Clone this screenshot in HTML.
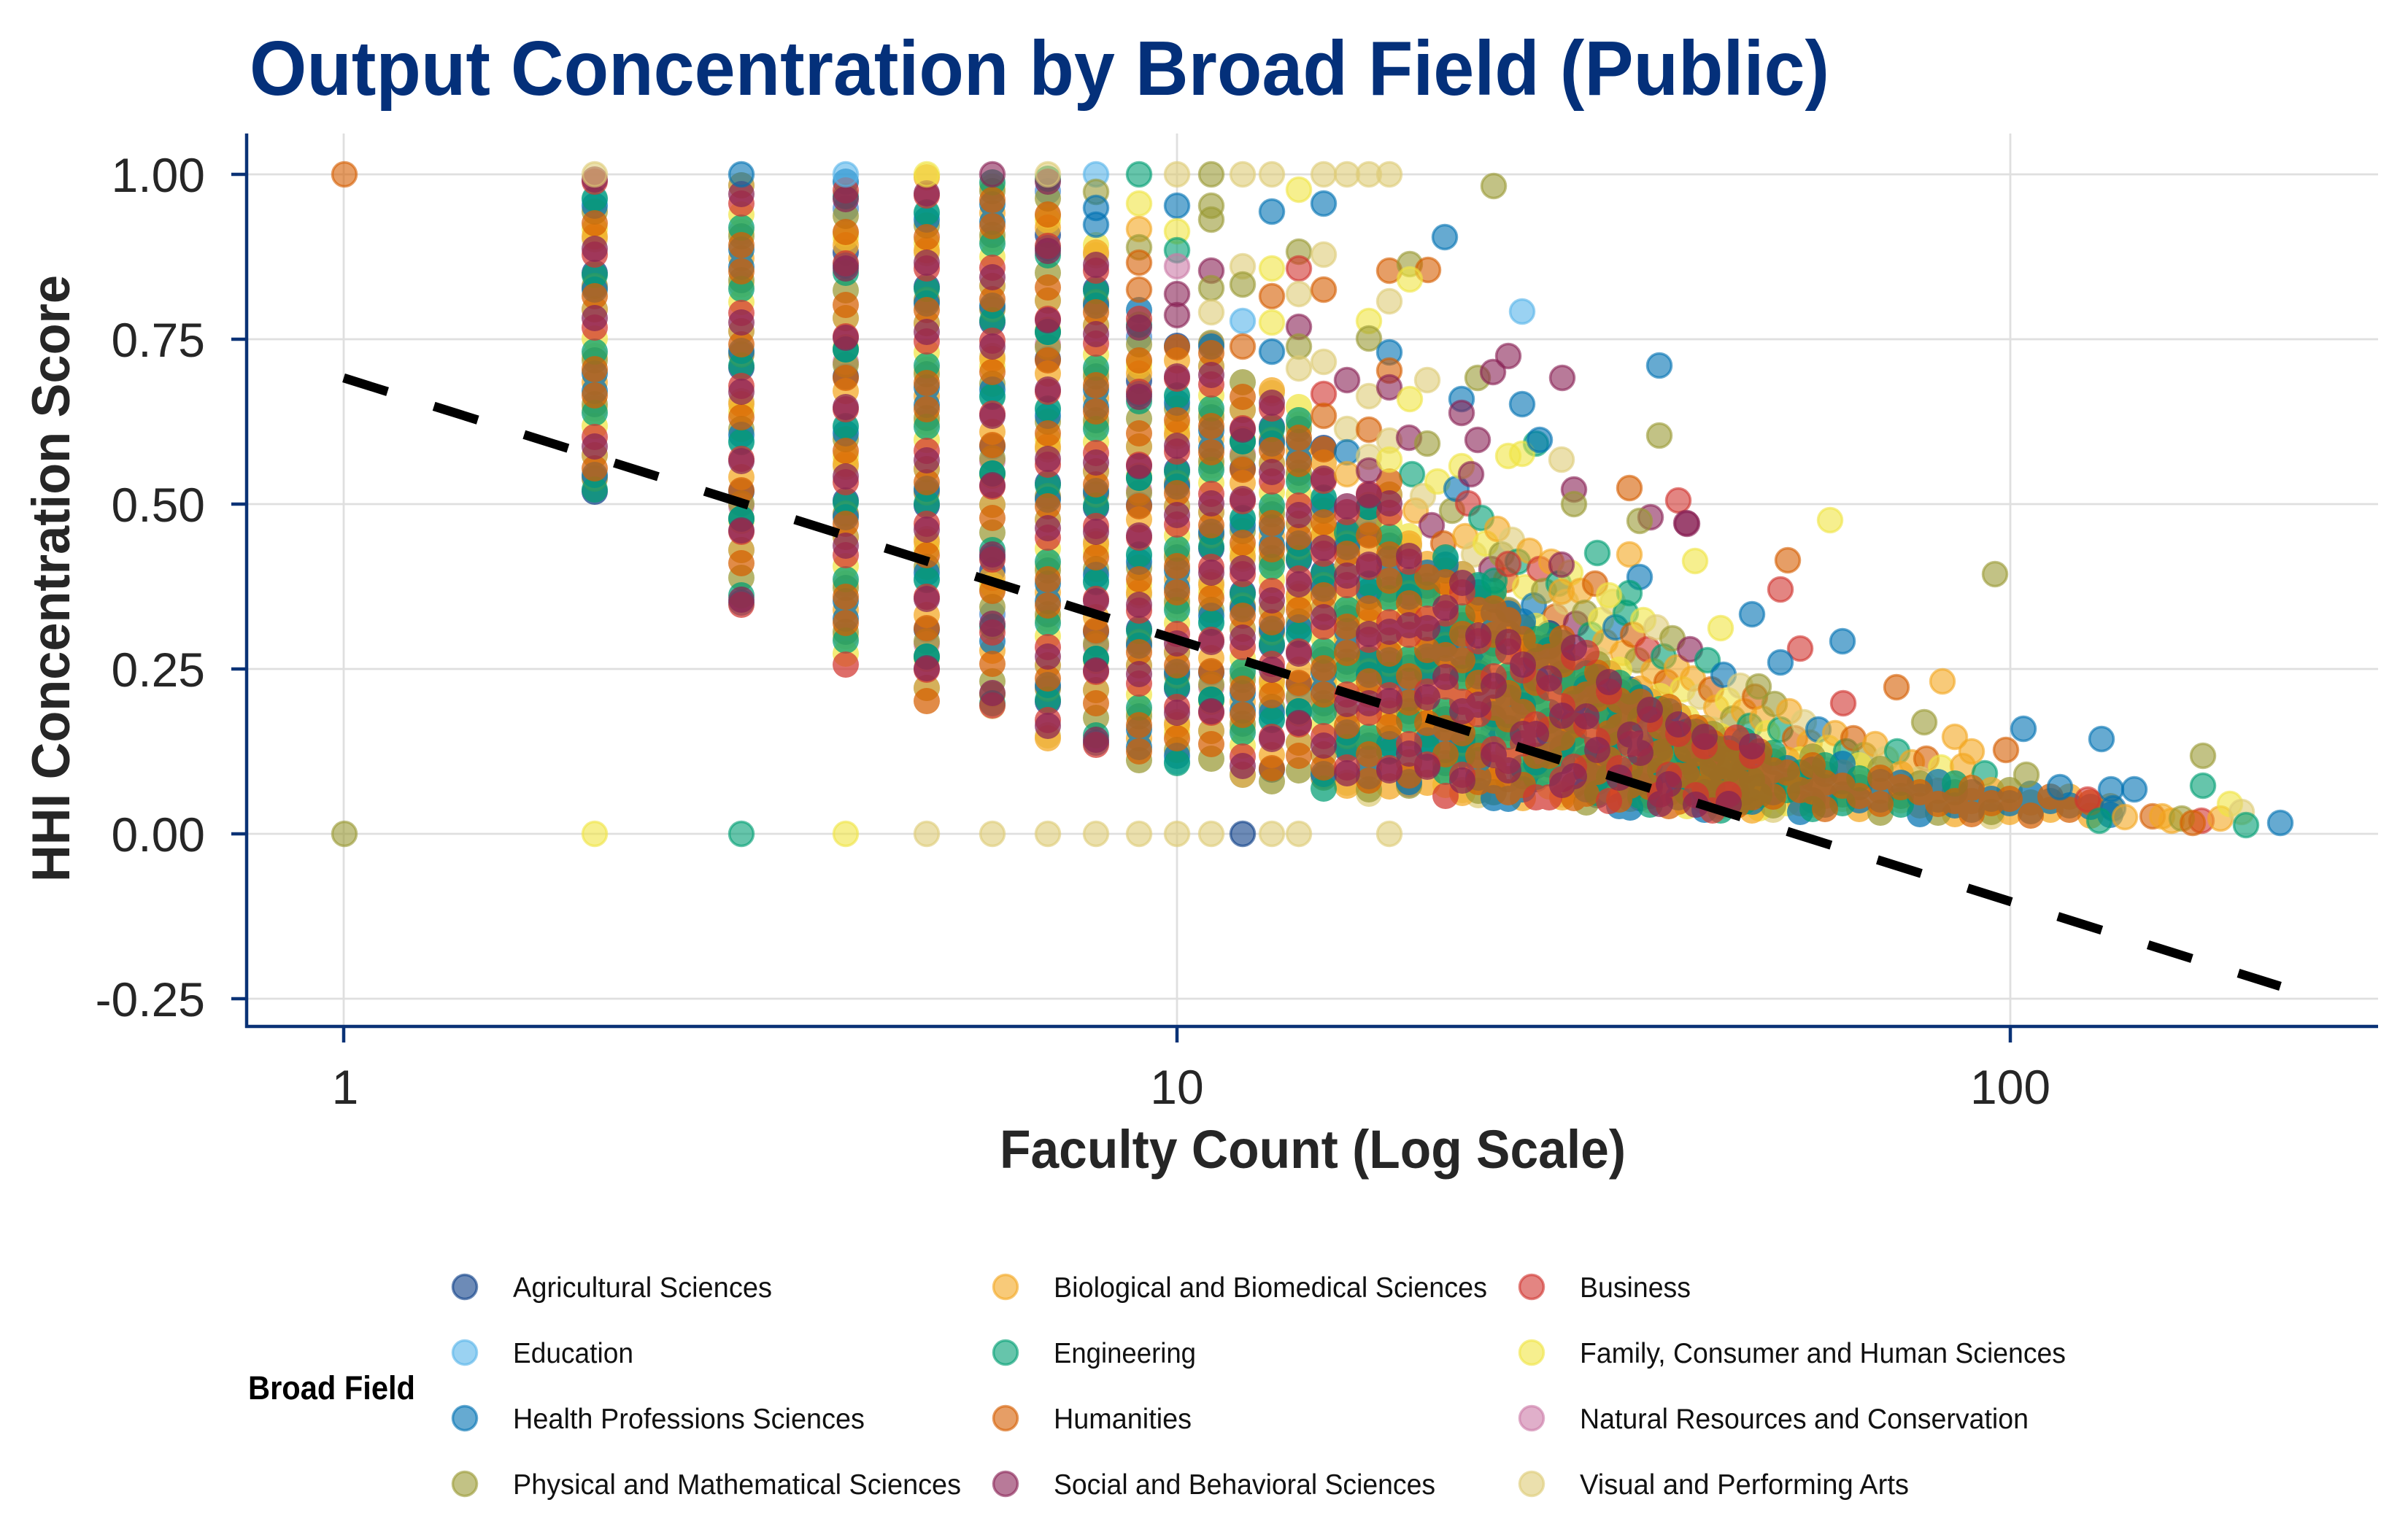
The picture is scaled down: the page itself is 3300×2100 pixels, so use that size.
<!DOCTYPE html>
<html>
<head>
<meta charset="utf-8">
<style>
html,body{margin:0;padding:0;background:#fff;width:3300px;height:2100px;overflow:hidden}
svg{display:block}
text{font-family:"Liberation Sans",sans-serif}
circle{stroke-width:3.5;fill-opacity:.6;stroke-opacity:.6}
.a{fill:#0b3d87;stroke:#0b3d87}
.b{fill:#f4a620;stroke:#f4a620}
.u{fill:#d1342f;stroke:#d1342f}
.e{fill:#56b4e9;stroke:#56b4e9}
.g{fill:#009e73;stroke:#009e73}
.f{fill:#f0e442;stroke:#f0e442}
.h{fill:#0072b2;stroke:#0072b2}
.m{fill:#d55e00;stroke:#d55e00}
.n{fill:#cc79a7;stroke:#cc79a7}
.p{fill:#999933;stroke:#999933}
.s{fill:#882255;stroke:#882255}
.v{fill:#ddcc77;stroke:#ddcc77}
</style>
</head>
<body>
<svg width="3300" height="2100" viewBox="0 0 3300 2100" xmlns="http://www.w3.org/2000/svg">
<defs>
<path id="D" d="M815 524V691M815 524V239M1016 354V842M1016 354V239M1159 836V917M1159 836V239M1270 543V962M1270 543V239M1360 292V992M1360 292V239M1436 812V1014M1436 812V239M1502 546V1030M1502 546V329M1561 1012V1043M1561 1012V420M1613 794V1053M1613 794V465M1660 602V1061M1660 602V465M1703 962V1068M1703 962V510M1743 735V1074M1743 735V528M1780 618V1078M1780 618V555M1814 934V1083M1814 934V601M1846 877V1087M1846 877V691M1876 1052V1090M1876 1052V673M1904 778V1093M1904 778V655M1931 945V1090M1931 945V727M1956 773V1090M1956 773V763M1981 1016V1092M1981 1016V763M2004 887V1093M2004 887V781M2026 1054V1095M2026 1054V800M2047 852V1096M2047 852V809M2067 968V1098M2067 968V827M2087 1094V1099M2087 1094V845M2105 918V1100M2105 918V854M2123 1018V1101M2123 1018V863M2141 893V1102M2141 893V872M2157 976V1103M2157 976V881M2174 1070V1104M2174 1070V890M2189 940V1105M2189 940V899M2205 1023V1106M2205 1023V908M2219 978V1107M2219 978V917M2234 1095V1108M2234 1095V926M2248 944V1108M2248 944V935M2261 1061V1109M2261 1061V944M2275 1014V1109M2275 1014V953M2287 987V1110M2287 987V962M2300 1081V1110M2300 1081V971M2312 1045V1111M2312 1045V980M2324 1015V1111M2324 1015V985M2336 1098V1112M2336 1098V989M2347 1036V1112M2347 1036V994M2358 1069V1112M2358 1069V998M2369 1014V1113M2369 1014V1003M2380 1086V1113M2380 1086V1007M2390 1057V1113M2390 1057V1012M2401 1111V1114M2401 1111V1016M2411 1048V1114M2411 1048V1021M2430 1074V1115M2430 1074V1025M2449 1041V1115M2449 1041V1030M2467 1101V1116M2467 1101V1034M2484 1067V1116M2484 1067V1034M2501 1091V1117M2501 1091V1039M2525 1059V1117M2525 1059V1044M2548 1109V1118M2548 1109V1048M2577 1084V1118M2577 1084V1053M2605 1061V1119M2605 1061V1057M2631 1104V1119M2631 1104V1062M2656 1084V1120M2656 1084V1066M2679 1116V1120M2679 1116V1071M2702 1098V1121M2702 1098V1071M2729 1083V1121M2729 1083V1075M2754 1113V1121M2754 1113V1080M2783 1100V1122M2783 1100V1084M2810 1110V1122M2810 1110V1089M2836 1092V1122M2836 1092V1089M2865 1118V1123M2865 1118V1093M2892 1105V1123M2892 1105V1098"/>
</defs>
<rect width="3300" height="2100" fill="#ffffff"/>
<text x="342" y="130" font-weight="bold" font-size="106" fill="#04307a" textLength="2165" lengthAdjust="spacingAndGlyphs">Output Concentration by Broad Field (Public)</text>

<g stroke="#dfdfdf" stroke-width="2.8">
<line x1="338" y1="239" x2="3259" y2="239"/>
<line x1="338" y1="465" x2="3259" y2="465"/>
<line x1="338" y1="691" x2="3259" y2="691"/>
<line x1="338" y1="917" x2="3259" y2="917"/>
<line x1="338" y1="1143" x2="3259" y2="1143"/>
<line x1="338" y1="1369" x2="3259" y2="1369"/>
<line x1="471" y1="183" x2="471" y2="1407"/>
<line x1="1613" y1="183" x2="1613" y2="1407"/>
<line x1="2755" y1="183" x2="2755" y2="1407"/>
</g>

<!-- medium-density scattered points -->
<g>
<circle r="16.5" cx="1935" cy="650" class="g"/><circle r="16.5" cx="1940" cy="700" class="b"/><circle r="16.5" cx="1950" cy="680" class="v"/><circle r="16.5" cx="1962" cy="720" class="s"/><circle r="16.5" cx="1970" cy="660" class="f"/><circle r="16.5" cx="1978" cy="745" class="m"/><circle r="16.5" cx="1990" cy="700" class="p"/><circle r="16.5" cx="1996" cy="670" class="h"/><circle r="16.5" cx="2008" cy="735" class="b"/><circle r="16.5" cx="2012" cy="690" class="u"/><circle r="16.5" cx="2020" cy="760" class="v"/><circle r="16.5" cx="2030" cy="710" class="g"/><circle r="16.5" cx="2036" cy="745" class="f"/><circle r="16.5" cx="2044" cy="780" class="s"/><circle r="16.5" cx="2052" cy="725" class="b"/><circle r="16.5" cx="2058" cy="760" class="p"/><circle r="16.5" cx="2064" cy="795" class="m"/><circle r="16.5" cx="2072" cy="740" class="v"/><circle r="16.5" cx="2080" cy="770" class="g"/><circle r="16.5" cx="2090" cy="805" class="f"/><circle r="16.5" cx="2096" cy="755" class="b"/><circle r="16.5" cx="2102" cy="830" class="h"/><circle r="16.5" cx="2110" cy="780" class="u"/><circle r="16.5" cx="2116" cy="810" class="p"/><circle r="16.5" cx="2126" cy="770" class="b"/><circle r="16.5" cx="2132" cy="845" class="m"/><circle r="16.5" cx="2136" cy="800" class="g"/><circle r="16.5" cx="2146" cy="825" class="v"/><circle r="16.5" cx="2152" cy="785" class="f"/><circle r="16.5" cx="2160" cy="855" class="s"/><circle r="16.5" cx="2166" cy="810" class="b"/><circle r="16.5" cx="2172" cy="840" class="p"/><circle r="16.5" cx="2180" cy="870" class="g"/><circle r="16.5" cx="2186" cy="800" class="m"/><circle r="16.5" cx="2194" cy="850" class="f"/><circle r="16.5" cx="2200" cy="880" class="b"/><circle r="16.5" cx="2210" cy="825" class="v"/><circle r="16.5" cx="2214" cy="860" class="h"/><circle r="16.5" cx="2224" cy="895" class="b"/><circle r="16.5" cx="2228" cy="840" class="g"/><circle r="16.5" cx="2238" cy="870" class="m"/><circle r="16.5" cx="2244" cy="905" class="p"/><circle r="16.5" cx="2252" cy="850" class="f"/><circle r="16.5" cx="2258" cy="890" class="u"/><circle r="16.5" cx="2266" cy="920" class="b"/><circle r="16.5" cx="2270" cy="860" class="v"/><circle r="16.5" cx="2280" cy="900" class="g"/><circle r="16.5" cx="2284" cy="935" class="m"/><circle r="16.5" cx="2292" cy="875" class="p"/><circle r="16.5" cx="2298" cy="915" class="b"/><circle r="16.5" cx="2306" cy="945" class="f"/><circle r="16.5" cx="2316" cy="890" class="s"/><circle r="16.5" cx="2320" cy="930" class="b"/><circle r="16.5" cx="2330" cy="955" class="v"/><circle r="16.5" cx="2340" cy="905" class="g"/><circle r="16.5" cx="2345" cy="945" class="m"/><circle r="16.5" cx="2352" cy="970" class="b"/><circle r="16.5" cx="2362" cy="925" class="h"/><circle r="16.5" cx="2368" cy="960" class="f"/><circle r="16.5" cx="2375" cy="985" class="p"/><circle r="16.5" cx="2385" cy="940" class="v"/><circle r="16.5" cx="2390" cy="975" class="b"/><circle r="16.5" cx="2398" cy="995" class="g"/><circle r="16.5" cx="2405" cy="955" class="m"/><circle r="16.5" cx="2415" cy="985" class="b"/><circle r="16.5" cx="2422" cy="1005" class="f"/><circle r="16.5" cx="2432" cy="965" class="p"/><circle r="16.5" cx="2440" cy="1000" class="g"/><circle r="16.5" cx="2452" cy="975" class="b"/><circle r="16.5" cx="2460" cy="1012" class="m"/><circle r="16.5" cx="2472" cy="990" class="v"/><circle r="16.5" cx="2480" cy="1018" class="b"/><circle r="16.5" cx="2492" cy="1000" class="h"/><circle r="16.5" cx="2505" cy="1025" class="f"/><circle r="16.5" cx="2515" cy="1005" class="b"/><circle r="16.5" cx="2530" cy="1030" class="g"/><circle r="16.5" cx="2540" cy="1012" class="m"/><circle r="16.5" cx="2555" cy="1035" class="p"/><circle r="16.5" cx="2570" cy="1020" class="b"/><circle r="16.5" cx="2585" cy="1040" class="v"/><circle r="16.5" cx="2600" cy="1030" class="g"/><circle r="16.5" cx="2620" cy="1045" class="b"/><circle r="16.5" cx="2640" cy="1040" class="m"/><circle r="16.5" cx="2660" cy="1052" class="f"/><circle r="16.5" cx="2690" cy="1050" class="b"/><circle r="16.5" cx="2720" cy="1060" class="g"/>
</g>

<!-- dense dotted layers -->
<g fill="none" stroke-width="36" stroke-linecap="round" stroke-opacity="0.72">
<use href="#D" stroke="#0b3d87" stroke-dasharray="0 170" stroke-dashoffset="20"/>
<use href="#D" stroke="#cc79a7" stroke-dasharray="0 210" stroke-dashoffset="80"/>
<use href="#D" stroke="#56b4e9" stroke-dasharray="0 150" stroke-dashoffset="50"/>
<use href="#D" stroke="#ddcc77" stroke-dasharray="0 160" stroke-dashoffset="124"/>
<use href="#D" stroke="#f0e442" stroke-dasharray="0 150" stroke-dashoffset="90"/>
<use href="#D" stroke="#f4a620" stroke-dasharray="0 100" stroke-dashoffset="0"/>
<use href="#D" stroke="#999933" stroke-dasharray="0 102" stroke-dashoffset="72"/>
<use href="#D" stroke="#0072b2" stroke-dasharray="0 115" stroke-dashoffset="103"/>
<use href="#D" stroke="#009e73" stroke-dasharray="0 105" stroke-dashoffset="63"/>
<use href="#D" stroke="#d55e00" stroke-dasharray="0 100" stroke-dashoffset="82"/>
<use href="#D" stroke="#d1342f" stroke-dasharray="0 100" stroke-dashoffset="25"/>
<use href="#D" stroke="#882255" stroke-dasharray="0 95" stroke-dashoffset="7"/>
</g>

<!-- individual points -->
<g>
<circle r="16.5" cx="472" cy="239" class="m"/><circle r="16.5" cx="472" cy="1143" class="p"/>
<circle r="16.5" cx="815" cy="239" class="v"/><circle r="16.5" cx="1016" cy="239" class="h"/><circle r="16.5" cx="1159" cy="239" class="e"/><circle r="16.5" cx="1270" cy="239" class="f"/><circle r="16.5" cx="1360" cy="239" class="s"/><circle r="16.5" cx="1436" cy="239" class="v"/><circle r="16.5" cx="1502" cy="239" class="e"/><circle r="16.5" cx="1561" cy="239" class="g"/><circle r="16.5" cx="1613" cy="239" class="v"/><circle r="16.5" cx="1660" cy="239" class="p"/><circle r="16.5" cx="1703" cy="239" class="v"/><circle r="16.5" cx="1743" cy="239" class="v"/><circle r="16.5" cx="1814" cy="239" class="v"/><circle r="16.5" cx="1846" cy="239" class="v"/><circle r="16.5" cx="1876" cy="239" class="v"/><circle r="16.5" cx="1904" cy="239" class="v"/>
<circle r="16.5" cx="815" cy="1143" class="f"/><circle r="16.5" cx="1016" cy="1143" class="g"/><circle r="16.5" cx="1159" cy="1143" class="f"/><circle r="16.5" cx="1270" cy="1143" class="v"/><circle r="16.5" cx="1360" cy="1143" class="v"/><circle r="16.5" cx="1436" cy="1143" class="v"/><circle r="16.5" cx="1502" cy="1143" class="v"/><circle r="16.5" cx="1561" cy="1143" class="v"/><circle r="16.5" cx="1613" cy="1143" class="v"/><circle r="16.5" cx="1660" cy="1143" class="v"/><circle r="16.5" cx="1703" cy="1143" class="a"/><circle r="16.5" cx="1743" cy="1143" class="v"/><circle r="16.5" cx="1780" cy="1143" class="v"/><circle r="16.5" cx="1904" cy="1143" class="v"/>
<circle r="16.5" cx="1502" cy="263" class="p"/><circle r="16.5" cx="1502" cy="285" class="h"/><circle r="16.5" cx="1502" cy="308" class="h"/>
<circle r="16.5" cx="1561" cy="279" class="f"/><circle r="16.5" cx="1561" cy="314" class="b"/><circle r="16.5" cx="1561" cy="339" class="p"/><circle r="16.5" cx="1561" cy="360" class="m"/><circle r="16.5" cx="1561" cy="397" class="m"/>
<circle r="16.5" cx="1613" cy="282" class="h"/><circle r="16.5" cx="1613" cy="317" class="f"/><circle r="16.5" cx="1613" cy="343" class="g"/><circle r="16.5" cx="1613" cy="365" class="n"/><circle r="16.5" cx="1613" cy="403" class="s"/><circle r="16.5" cx="1613" cy="432" class="s"/>
<circle r="16.5" cx="1660" cy="282" class="p"/><circle r="16.5" cx="1660" cy="301" class="p"/><circle r="16.5" cx="1660" cy="371" class="s"/><circle r="16.5" cx="1660" cy="395" class="p"/><circle r="16.5" cx="1660" cy="428" class="v"/>
<circle r="16.5" cx="1703" cy="365" class="v"/><circle r="16.5" cx="1703" cy="390" class="p"/><circle r="16.5" cx="1703" cy="440" class="e"/><circle r="16.5" cx="1703" cy="475" class="m"/>
<circle r="16.5" cx="1743" cy="290" class="h"/><circle r="16.5" cx="1743" cy="368" class="f"/><circle r="16.5" cx="1743" cy="406" class="m"/><circle r="16.5" cx="1743" cy="442" class="f"/><circle r="16.5" cx="1743" cy="482" class="h"/>
<circle r="16.5" cx="1780" cy="260" class="f"/><circle r="16.5" cx="1780" cy="345" class="p"/><circle r="16.5" cx="1780" cy="368" class="u"/><circle r="16.5" cx="1780" cy="403" class="v"/><circle r="16.5" cx="1780" cy="448" class="s"/><circle r="16.5" cx="1780" cy="475" class="p"/><circle r="16.5" cx="1780" cy="505" class="v"/>
<circle r="16.5" cx="1814" cy="279" class="h"/><circle r="16.5" cx="1814" cy="349" class="v"/><circle r="16.5" cx="1814" cy="397" class="m"/><circle r="16.5" cx="1814" cy="496" class="v"/><circle r="16.5" cx="1814" cy="540" class="u"/><circle r="16.5" cx="1814" cy="570" class="m"/>
<circle r="16.5" cx="1846" cy="521" class="s"/><circle r="16.5" cx="1846" cy="588" class="v"/><circle r="16.5" cx="1846" cy="620" class="h"/><circle r="16.5" cx="1846" cy="650" class="b"/>
<circle r="16.5" cx="1876" cy="440" class="f"/><circle r="16.5" cx="1876" cy="464" class="p"/><circle r="16.5" cx="1876" cy="543" class="v"/><circle r="16.5" cx="1876" cy="589" class="m"/><circle r="16.5" cx="1876" cy="626" class="v"/><circle r="16.5" cx="1876" cy="645" class="s"/>
<circle r="16.5" cx="1904" cy="371" class="m"/><circle r="16.5" cx="1904" cy="413" class="v"/><circle r="16.5" cx="1904" cy="483" class="h"/><circle r="16.5" cx="1904" cy="508" class="m"/><circle r="16.5" cx="1904" cy="531" class="s"/><circle r="16.5" cx="1904" cy="604" class="v"/><circle r="16.5" cx="1904" cy="630" class="f"/>
<circle r="16.5" cx="1932" cy="362" class="p"/><circle r="16.5" cx="1957" cy="370" class="m"/><circle r="16.5" cx="1932" cy="383" class="f"/><circle r="16.5" cx="1956" cy="521" class="v"/><circle r="16.5" cx="1932" cy="547" class="f"/><circle r="16.5" cx="1931" cy="600" class="s"/><circle r="16.5" cx="1980" cy="325" class="h"/><circle r="16.5" cx="2047" cy="255" class="p"/><circle r="16.5" cx="2003" cy="547" class="h"/><circle r="16.5" cx="2003" cy="566" class="s"/><circle r="16.5" cx="2025" cy="518" class="p"/><circle r="16.5" cx="2046" cy="510" class="s"/><circle r="16.5" cx="2067" cy="488" class="s"/><circle r="16.5" cx="2086" cy="427" class="e"/><circle r="16.5" cx="2086" cy="554" class="h"/><circle r="16.5" cx="2141" cy="518" class="s"/><circle r="16.5" cx="2274" cy="501" class="h"/><circle r="16.5" cx="1956" cy="608" class="p"/><circle r="16.5" cx="2025" cy="603" class="s"/><circle r="16.5" cx="2105" cy="608" class="g"/><circle r="16.5" cx="2067" cy="625" class="f"/><circle r="16.5" cx="2086" cy="622" class="f"/><circle r="16.5" cx="2140" cy="630" class="v"/><circle r="16.5" cx="2274" cy="597" class="p"/><circle r="16.5" cx="2003" cy="639" class="f"/><circle r="16.5" cx="2233" cy="669" class="m"/><circle r="16.5" cx="2300" cy="686" class="u"/><circle r="16.5" cx="2157" cy="671" class="s"/><circle r="16.5" cx="2157" cy="691" class="p"/><circle r="16.5" cx="2312" cy="718" class="s"/><circle r="16.5" cx="2262" cy="709" class="s"/><circle r="16.5" cx="2247" cy="714" class="p"/><circle r="16.5" cx="2508" cy="713" class="f"/><circle r="16.5" cx="2323" cy="769" class="f"/><circle r="16.5" cx="2450" cy="768" class="m"/><circle r="16.5" cx="2440" cy="808" class="u"/><circle r="16.5" cx="2734" cy="787" class="p"/><circle r="16.5" cx="2401" cy="842" class="h"/><circle r="16.5" cx="2358" cy="861" class="f"/><circle r="16.5" cx="2525" cy="879" class="h"/><circle r="16.5" cx="2467" cy="889" class="u"/><circle r="16.5" cx="2440" cy="908" class="h"/><circle r="16.5" cx="2189" cy="758" class="g"/><circle r="16.5" cx="2233" cy="760" class="b"/><circle r="16.5" cx="2140" cy="811" class="b"/><circle r="16.5" cx="2247" cy="791" class="h"/><circle r="16.5" cx="2233" cy="813" class="g"/><circle r="16.5" cx="2048" cy="796" class="g"/><circle r="16.5" cx="2067" cy="773" class="u"/><circle r="16.5" cx="2140" cy="774" class="s"/><circle r="16.5" cx="2205" cy="816" class="f"/><circle r="16.5" cx="2599" cy="942" class="m"/><circle r="16.5" cx="2662" cy="934" class="b"/><circle r="16.5" cx="2773" cy="999" class="h"/><circle r="16.5" cx="2637" cy="990" class="p"/><circle r="16.5" cx="2526" cy="964" class="u"/><circle r="16.5" cx="2679" cy="1010" class="b"/><circle r="16.5" cx="2749" cy="1028" class="m"/><circle r="16.5" cx="2702" cy="1030" class="b"/><circle r="16.5" cx="2410" cy="941" class="p"/><circle r="16.5" cx="2311" cy="717" class="s"/><circle r="16.5" cx="2110" cy="603" class="h"/><circle r="16.5" cx="2016" cy="650" class="s"/>
<circle r="16.5" cx="2893" cy="1082" class="h"/><circle r="16.5" cx="2861" cy="1096" class="u"/><circle r="16.5" cx="2896" cy="1108" class="h"/><circle r="16.5" cx="2877" cy="1125" class="g"/><circle r="16.5" cx="2925" cy="1082" class="h"/><circle r="16.5" cx="2950" cy="1119" class="m"/><circle r="16.5" cx="2963" cy="1119" class="b"/><circle r="16.5" cx="2976" cy="1125" class="b"/><circle r="16.5" cx="3017" cy="1125" class="u"/><circle r="16.5" cx="3019" cy="1036" class="p"/><circle r="16.5" cx="3019" cy="1077" class="g"/><circle r="16.5" cx="3043" cy="1122" class="b"/><circle r="16.5" cx="3056" cy="1102" class="f"/><circle r="16.5" cx="3072" cy="1113" class="v"/><circle r="16.5" cx="3078" cy="1131" class="g"/><circle r="16.5" cx="3125" cy="1128" class="h"/><circle r="16.5" cx="2880" cy="1013" class="h"/><circle r="16.5" cx="2823" cy="1079" class="h"/><circle r="16.5" cx="2777" cy="1062" class="p"/><circle r="16.5" cx="2912" cy="1120" class="b"/><circle r="16.5" cx="2990" cy="1122" class="p"/><circle r="16.5" cx="3005" cy="1128" class="m"/>
</g>

<line x1="471" y1="518" x2="3125" y2="1352" stroke="#000" stroke-width="12.5" stroke-dasharray="63 66.6" stroke-linecap="butt"/>

<g stroke="#0a3276" stroke-width="4.5" fill="none">
<line x1="338" y1="183" x2="338" y2="1409"/>
<line x1="336" y1="1407" x2="3259" y2="1407"/>
<line x1="317" y1="239" x2="338" y2="239"/>
<line x1="317" y1="465" x2="338" y2="465"/>
<line x1="317" y1="691" x2="338" y2="691"/>
<line x1="317" y1="917" x2="338" y2="917"/>
<line x1="317" y1="1143" x2="338" y2="1143"/>
<line x1="317" y1="1369" x2="338" y2="1369"/>
<line x1="471" y1="1407" x2="471" y2="1429"/>
<line x1="1613" y1="1407" x2="1613" y2="1429"/>
<line x1="2755" y1="1407" x2="2755" y2="1429"/>
</g>

<g font-size="66" fill="#262626" text-anchor="end">
<text x="281" y="263">1.00</text>
<text x="281" y="489">0.75</text>
<text x="281" y="715">0.50</text>
<text x="281" y="941">0.25</text>
<text x="281" y="1167">0.00</text>
<text x="281" y="1393">-0.25</text>
</g>
<g font-size="66" fill="#262626" text-anchor="middle">
<text x="473" y="1513">1</text>
<text x="1613" y="1513">10</text>
<text x="2755" y="1513">100</text>
</g>

<text x="1370" y="1601" font-weight="bold" font-size="74" fill="#262626" textLength="858" lengthAdjust="spacingAndGlyphs">Faculty Count (Log Scale)</text>
<text transform="translate(95,1209) rotate(-90)" x="0" y="0" font-weight="bold" font-size="73" fill="#262626" textLength="832" lengthAdjust="spacingAndGlyphs">HHI Concentration Score</text>

<!-- Legend -->
<text x="340" y="1918" font-weight="bold" font-size="45" fill="#000" textLength="229" lengthAdjust="spacingAndGlyphs">Broad Field</text>
<g>
<circle r="16.5" cx="637" cy="1764" class="a"/><circle r="16.5" cx="637" cy="1854" class="e"/><circle r="16.5" cx="637" cy="1944" class="h"/><circle r="16.5" cx="637" cy="2034" class="p"/>
<circle r="16.5" cx="1378" cy="1764" class="b"/><circle r="16.5" cx="1378" cy="1854" class="g"/><circle r="16.5" cx="1378" cy="1944" class="m"/><circle r="16.5" cx="1378" cy="2034" class="s"/>
<circle r="16.5" cx="2099" cy="1764" class="u"/><circle r="16.5" cx="2099" cy="1854" class="f"/><circle r="16.5" cx="2099" cy="1944" class="n"/><circle r="16.5" cx="2099" cy="2034" class="v"/>
</g>
<g font-size="39" fill="#111">
<text x="703" y="1778" textLength="355" lengthAdjust="spacingAndGlyphs">Agricultural Sciences</text>
<text x="703" y="1868" textLength="165" lengthAdjust="spacingAndGlyphs">Education</text>
<text x="703" y="1958" textLength="482" lengthAdjust="spacingAndGlyphs">Health Professions Sciences</text>
<text x="703" y="2048" textLength="614" lengthAdjust="spacingAndGlyphs">Physical and Mathematical Sciences</text>
<text x="1444" y="1778" textLength="594" lengthAdjust="spacingAndGlyphs">Biological and Biomedical Sciences</text>
<text x="1444" y="1868" textLength="195" lengthAdjust="spacingAndGlyphs">Engineering</text>
<text x="1444" y="1958" textLength="189" lengthAdjust="spacingAndGlyphs">Humanities</text>
<text x="1444" y="2048" textLength="523" lengthAdjust="spacingAndGlyphs">Social and Behavioral Sciences</text>
<text x="2165" y="1778" textLength="152" lengthAdjust="spacingAndGlyphs">Business</text>
<text x="2165" y="1868" textLength="666" lengthAdjust="spacingAndGlyphs">Family, Consumer and Human Sciences</text>
<text x="2165" y="1958" textLength="615" lengthAdjust="spacingAndGlyphs">Natural Resources and Conservation</text>
<text x="2165" y="2048" textLength="451" lengthAdjust="spacingAndGlyphs">Visual and Performing Arts</text>
</g>
</svg>
</body>
</html>
